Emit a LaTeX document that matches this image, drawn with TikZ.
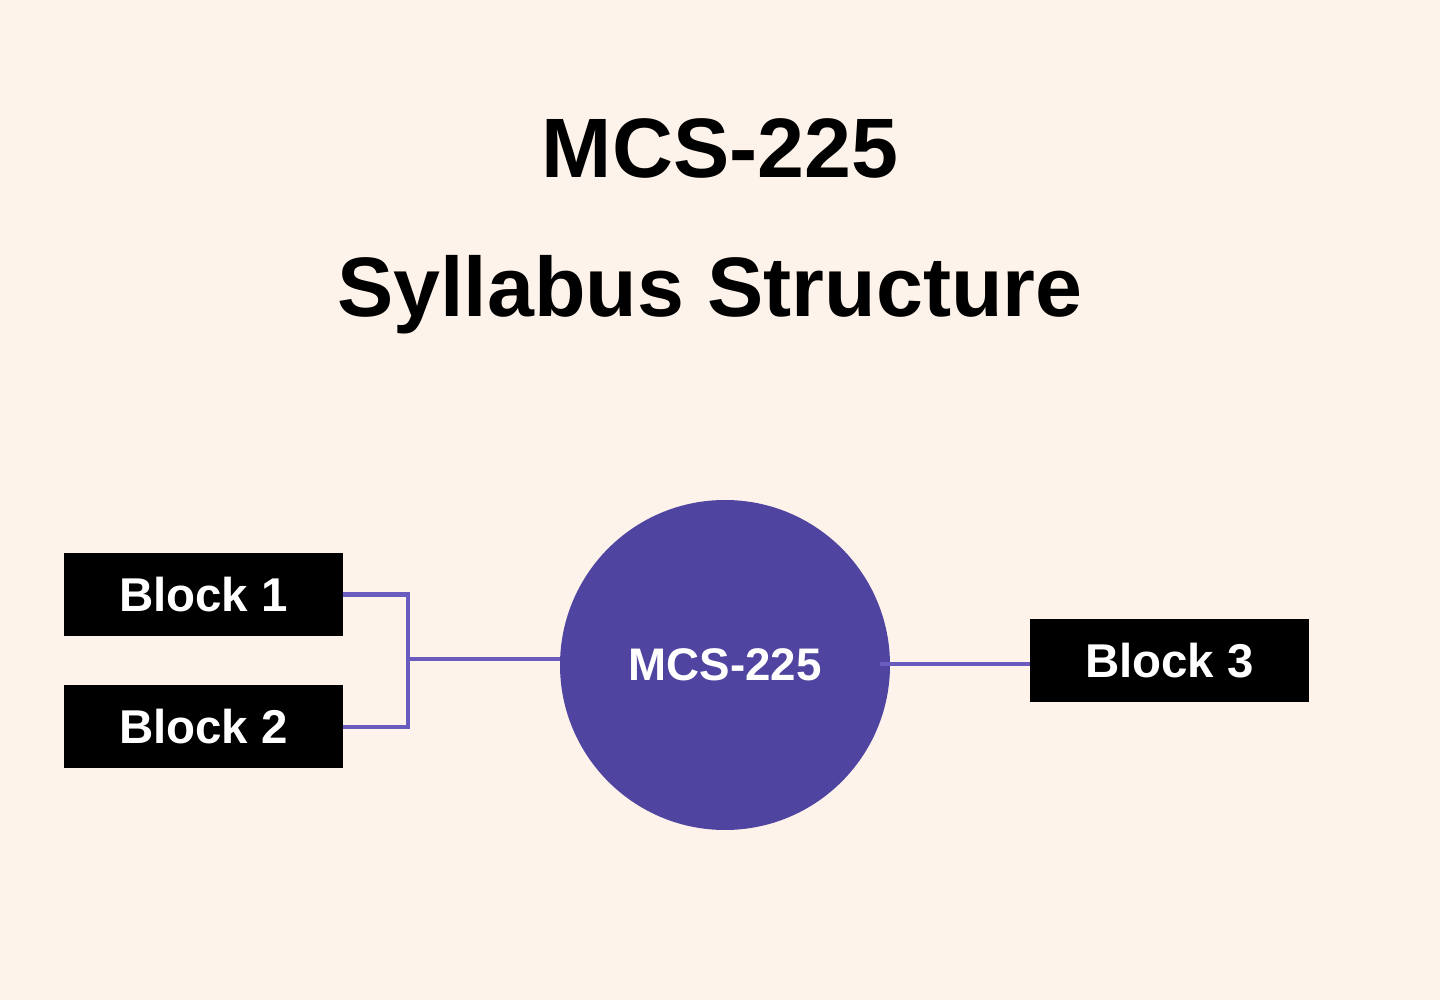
\documentclass[tikz,border=0pt]{standalone}
\usepackage{fontspec}
\setmainfont{Liberation Sans}
\definecolor{sylbg}{HTML}{FEF3EA}
\definecolor{sylmain}{HTML}{4F44A0}
\definecolor{sylline}{HTML}{6A5BBF}
\begin{document}
\begin{tikzpicture}
            % Background
            \fill[sylbg] (0,0) rectangle (28.8,20);
            \useasboundingbox (0,0) rectangle (28.8,20);

            % Title
            \node[font=\fontsize{48}{56}\selectfont\bfseries] (title) at (14.4,17.04) {MCS-225};
            \node[font=\fontsize{48}{56}\selectfont\bfseries] (subtitle) at (14.2,14.1) {Syllabus Structure};

            % Centre
            \node[circle, fill=sylmain, minimum size=6.6cm, text=white,
                font=\fontsize{26}{30}\selectfont\bfseries] (c) at (14.5,6.7) {MCS-225};

            % Blocks
            \node[rectangle, fill=black, text=white, minimum width=5.58cm, minimum height=1.66cm,
                font=\fontsize{27}{30}\selectfont\bfseries] (b1) at (4.07,8.11) {Block 1};
            \node[rectangle, fill=black, text=white, minimum width=5.58cm, minimum height=1.66cm,
                font=\fontsize{27}{30}\selectfont\bfseries] (b2) at (4.07,5.46) {Block 2};
            \node[rectangle, fill=black, text=white, minimum width=5.58cm, minimum height=1.66cm,
                font=\fontsize{27}{30}\selectfont\bfseries] (b3) at (23.39,6.79) {Block 3};

            \coordinate (j) at (8.16,6.82);
            \draw[sylline, line width=2.5pt] (b1.east) -| (j |- b2.east) -- (b2.east);
            \draw[sylline, line width=2.5pt] (j) -- (c.west |- j);
            \draw[sylline, line width=2.5pt] (17.6,6.72) -- (b3.west |- 0,6.72);
        \end{tikzpicture}
\end{document}
